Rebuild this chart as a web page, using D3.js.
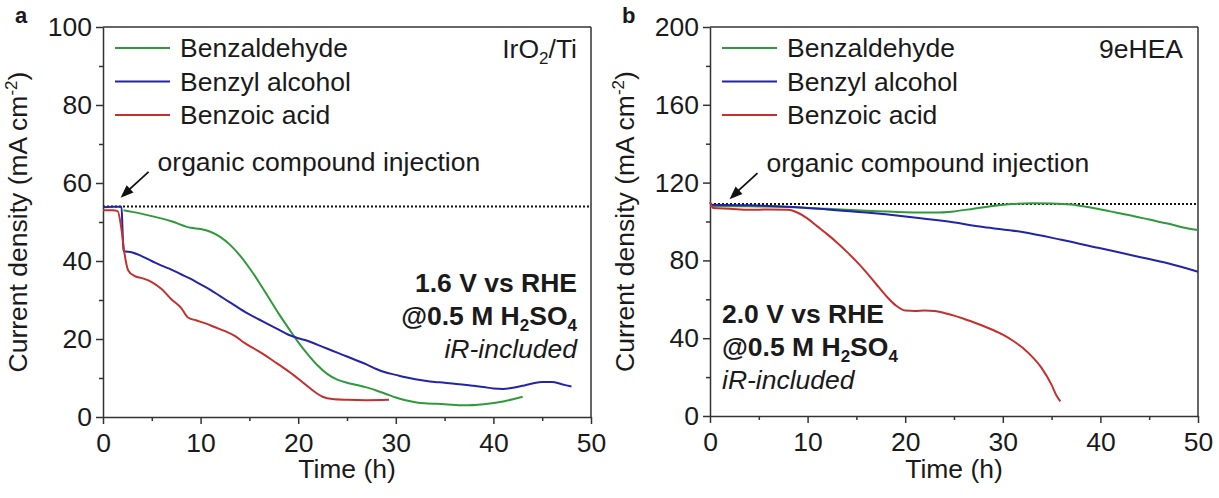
<!DOCTYPE html>
<html lang="en">

<head>
  <title>Current density vs time</title>
  <meta charset="UTF-8">
  <script src="https://cdn.jsdelivr.net/npm/d3@7"></script>
  <style>
    body { margin: 0; background: #fff; }
    text { font-family: "Liberation Sans", Arial, sans-serif; fill: #1a1a1a; }
  </style>
</head>

<body>
  <svg id="chart" width="1219" height="498"></svg>
  <script>
    // data (time in h, current density in mA cm-2)
    var timeTicks = [0, 10, 20, 30, 40, 50];
    var aTicks = [0, 20, 40, 60, 80, 100];
    var bTicks = [0, 40, 80, 120, 160, 200];
    var seriesNames = ["Benzaldehyde", "Benzyl alcohol", "Benzoic acid"];
    var seriesColors = ["#2f9a3c", "#2424a6", "#c4302e"];

    var aBaseline = 54;
    var bBaseline = 109;

    var aBenzaldehyde = [[2.1, 53], [3, 52.6], [5, 51.5], [7, 50.2], [9, 48.5], [10, 48.2], [11, 47.5], [12, 46.2],
      [13, 44.2], [14, 41.5], [15, 38.2], [16, 34.5], [17, 30.5], [18, 26.5], [19, 22.8], [20, 19.2], [21, 16],
      [22, 13.2], [23, 11], [24, 9.6], [25, 8.8], [26, 8.2], [27, 7.6], [28, 6.8], [29, 5.9], [30, 5], [31, 4.3],
      [32, 3.8], [33, 3.5], [35, 3.3], [37, 3.0], [39, 3.3], [41, 4.0], [43, 5.2]];
    var aBenzylAlcohol = [[0, 53.8], [1, 53.9], [1.9, 53.9], [2.0, 48], [2.1, 42.5], [3, 42.2], [4, 41.2], [5, 40],
      [6, 38.8], [7, 37.8], [8, 36.6], [9, 35.4], [10, 34], [11, 32.6], [12, 31], [13, 29.4], [14, 27.8], [15, 26.3],
      [16, 25], [17, 23.7], [18, 22.4], [19, 21.1], [20, 20.2], [21, 19.5], [22, 18.5], [23, 17.5], [24, 16.5],
      [25, 15.5], [26, 14.5], [27, 13.5], [28, 12.3], [29, 11.4], [30, 10.8], [31, 10.2], [32, 9.7], [33, 9.3],
      [34, 9], [35, 8.8], [36, 8.5], [37, 8.3], [38, 8], [39, 7.7], [40, 7.3], [41, 7.2], [42, 7.5], [43, 8],
      [44, 8.6], [45, 9], [46, 9], [47, 8.4], [48, 7.8]];
    var aBenzoicAcid = [[0, 53], [1, 53], [1.5, 52.8], [1.9, 48], [2.2, 42], [2.6, 37.5], [3.2, 36.2], [4, 35.6],
      [5, 34.6], [6, 32.8], [7, 30.2], [8, 28], [8.7, 25.5], [9.5, 24.8], [10.5, 24], [11.5, 23], [12.5, 22],
      [13.5, 20.8], [14.5, 19], [15.5, 17.5], [16.5, 16], [17.5, 14.3], [18.5, 12.6], [19.5, 10.8], [20.5, 8.8],
      [21.5, 6.8], [22.5, 5.2], [23.5, 4.6], [25, 4.4], [27, 4.3], [29.3, 4.4]];

    var bBenzaldehyde = [[0, 108], [4, 107.8], [8, 107.5], [12, 106.5], [16, 105.5], [20, 104.8], [23, 104.6],
      [25, 105.2], [27, 106.6], [29, 108], [31, 109], [33, 109.4], [35, 109.3], [37, 108.8], [39, 107.2],
      [41, 105.2], [43, 103.2], [45, 101], [47, 98.8], [49, 96.4], [50, 95.6]];
    var bBenzylAlcohol = [[0, 108.6], [4, 108.3], [8, 107.6], [12, 106.2], [16, 104.6], [20, 102.6], [24, 100.2],
      [28, 97.2], [32, 94.6], [36, 90.6], [40, 86.2], [44, 81.8], [47, 78.4], [50, 74.2]];
    var bBenzoicAcid = [[0, 110], [0.3, 107], [2, 106.6], [4, 106], [6, 106.2], [8, 106], [9, 104.5], [10, 101.5],
      [11, 97.5], [12, 93.5], [13, 89.2], [14, 84.5], [15, 79.5], [16, 74], [17, 68], [18, 62], [19, 57], [20, 54.2],
      [21, 54], [22, 54.2], [23, 54], [24, 53], [25, 51.6], [26, 50], [27, 48.2], [28, 46.3], [29, 44.2], [30, 41.8],
      [31, 38.8], [32, 35.2], [33, 30.5], [34, 24.5], [35, 16], [35.5, 10.5], [35.9, 7.5]];

    var svg = d3.select("#chart");
    var fs = "26.5px";

    function drawPanel(opt) {
      var g = svg.append("g");
      var x = d3.scaleLinear().domain([0, 50]).range([opt.left, opt.right]);
      var y = d3.scaleLinear().domain([0, opt.ymax]).range([opt.bottom, opt.top]);

      // minor ticks
      var xMinor = d3.range(5, 50, 10);
      var yStep = opt.ticks[1] - opt.ticks[0];
      var yMinor = d3.range(yStep / 2, opt.ymax, yStep);

      g.append("g")
        .attr("transform", "translate(0," + opt.bottom + ")")
        .call(d3.axisBottom(x).tickValues(xMinor).tickSize(4).tickFormat(""))
        .call(function (a) { a.select(".domain").remove(); });
      g.append("g")
        .attr("transform", "translate(" + opt.left + ",0)")
        .call(d3.axisLeft(y).tickValues(yMinor).tickSize(4).tickFormat(""))
        .call(function (a) { a.select(".domain").remove(); });

      var xa = g.append("g")
        .attr("transform", "translate(0," + opt.bottom + ")")
        .call(d3.axisBottom(x).tickValues(timeTicks).tickSize(7).tickPadding(9).tickSizeOuter(0));
      xa.selectAll("text").style("font-size", fs).attr("fill", "#1a1a1a");
      var ya = g.append("g")
        .attr("transform", "translate(" + opt.left + ",0)")
        .call(d3.axisLeft(y).tickValues(opt.ticks).tickSize(7).tickPadding(4).tickSizeOuter(0));
      ya.selectAll("text").style("font-size", fs).attr("fill", "#1a1a1a");
      g.selectAll(".tick line, .domain").attr("stroke", "#333").attr("stroke-width", 1.5);

      // frame top and right
      g.append("line").attr("x1", opt.left).attr("x2", opt.right).attr("y1", opt.top).attr("y2", opt.top)
        .attr("stroke", "#333").attr("stroke-width", 1.5);
      g.append("line").attr("x1", opt.right).attr("x2", opt.right).attr("y1", opt.top).attr("y2", opt.bottom)
        .attr("stroke", "#333").attr("stroke-width", 1.5);

      // baseline before injection
      g.append("line")
        .attr("x1", x(0)).attr("x2", x(50)).attr("y1", y(opt.baseline)).attr("y2", y(opt.baseline))
        .attr("stroke", "#111").attr("stroke-width", 2).attr("stroke-dasharray", "2,2");

      var line = d3.line().x(function (d) { return x(d[0]); }).y(function (d) { return y(d[1]); })
        .curve(d3.curveMonotoneX);
      opt.series.forEach(function (s, i) {
        g.append("path").datum(s).attr("d", line).attr("fill", "none")
          .attr("stroke", seriesColors[i]).attr("stroke-width", 2);
      });

      // legend
      seriesNames.forEach(function (name, i) {
        var ly = opt.top + 21 + i * 33.5;
        g.append("line").attr("x1", opt.left + 12).attr("x2", opt.left + 67).attr("y1", ly).attr("y2", ly)
          .attr("stroke", seriesColors[i]).attr("stroke-width", 2);
        g.append("text").attr("x", opt.left + 77).attr("y", ly + 9).style("font-size", fs).text(name);
      });

      // axis titles
      g.append("text").attr("x", (opt.left + opt.right) / 2).attr("y", 478).attr("text-anchor", "middle")
        .style("font-size", fs).text("Time (h)");
      var yt = g.append("text")
        .attr("transform", "translate(" + (opt.left - 76) + "," + ((opt.top + opt.bottom) / 2) + ") rotate(-90)")
        .attr("text-anchor", "middle").style("font-size", fs);
      yt.append("tspan").text("Current density (mA cm");
      yt.append("tspan").attr("dy", -10).style("font-size", "17px").text("-2");
      yt.append("tspan").attr("dy", 10).text(")");

      // panel letter
      g.append("text").attr("x", opt.left - 88).attr("y", 23).style("font-size", "22px")
        .style("font-weight", "bold").text(opt.letter);

      // injection annotation
      var ax = x(opt.arrowAt[0]), ay = y(opt.arrowAt[1]);
      g.append("line").attr("x1", ax + 28).attr("y1", ay - 26).attr("x2", ax + 5).attr("y2", ay - 5)
        .attr("stroke", "#111").attr("stroke-width", 1.8);
      g.append("path")
        .attr("d", "M0,0 L-13,-5 L-13,5 Z")
        .attr("transform", "translate(" + ax + "," + ay + ") rotate(" + (180 - 43) + ")")
        .attr("fill", "#111");
      g.append("text").attr("x", ax + 37).attr("y", ay - 27).style("font-size", fs)
        .text("organic compound injection");

      return { g: g, x: x, y: y };
    }

    var pa = drawPanel({
      letter: "a", left: 103, right: 591, top: 27, bottom: 417, ymax: 100, ticks: aTicks,
      baseline: aBaseline, series: [aBenzaldehyde, aBenzylAlcohol, aBenzoicAcid], arrowAt: [1.8, 56.2]
    });
    var pb = drawPanel({
      letter: "b", left: 710, right: 1198, top: 27, bottom: 416, ymax: 200, ticks: bTicks,
      baseline: bBaseline, series: [bBenzaldehyde, bBenzylAlcohol, bBenzoicAcid], arrowAt: [2.0, 111.5]
    });

    // sample labels
    var ta = pa.g.append("text").attr("x", 577).attr("y", 58).attr("text-anchor", "end").style("font-size", fs);
    ta.append("tspan").text("IrO");
    ta.append("tspan").attr("dy", 6).style("font-size", "17px").text("2");
    ta.append("tspan").attr("dy", -6).text("/Ti");
    pb.g.append("text").attr("x", 1183).attr("y", 58).attr("text-anchor", "end").style("font-size", fs).text("9eHEA");

    // conditions
    function conditions(g, x0, y0, anchor, volt) {
      g.append("text").attr("x", x0).attr("y", y0).attr("text-anchor", anchor)
        .style("font-size", fs).style("font-weight", "bold").text(volt + " V vs RHE");
      var t = g.append("text").attr("x", x0).attr("y", y0 + 33).attr("text-anchor", anchor)
        .style("font-size", fs).style("font-weight", "bold");
      t.append("tspan").text("@0.5 M H");
      t.append("tspan").attr("dy", 6).style("font-size", "17px").text("2");
      t.append("tspan").attr("dy", -6).text("SO");
      t.append("tspan").attr("dy", 6).style("font-size", "17px").text("4");
      g.append("text").attr("x", x0).attr("y", y0 + 66).attr("text-anchor", anchor)
        .style("font-size", fs).style("font-style", "italic").text("iR-included");
    }
    conditions(pa.g, 577, 292, "end", "1.6");
    conditions(pb.g, 722, 323, "start", "2.0");
  </script>
</body>

</html>
